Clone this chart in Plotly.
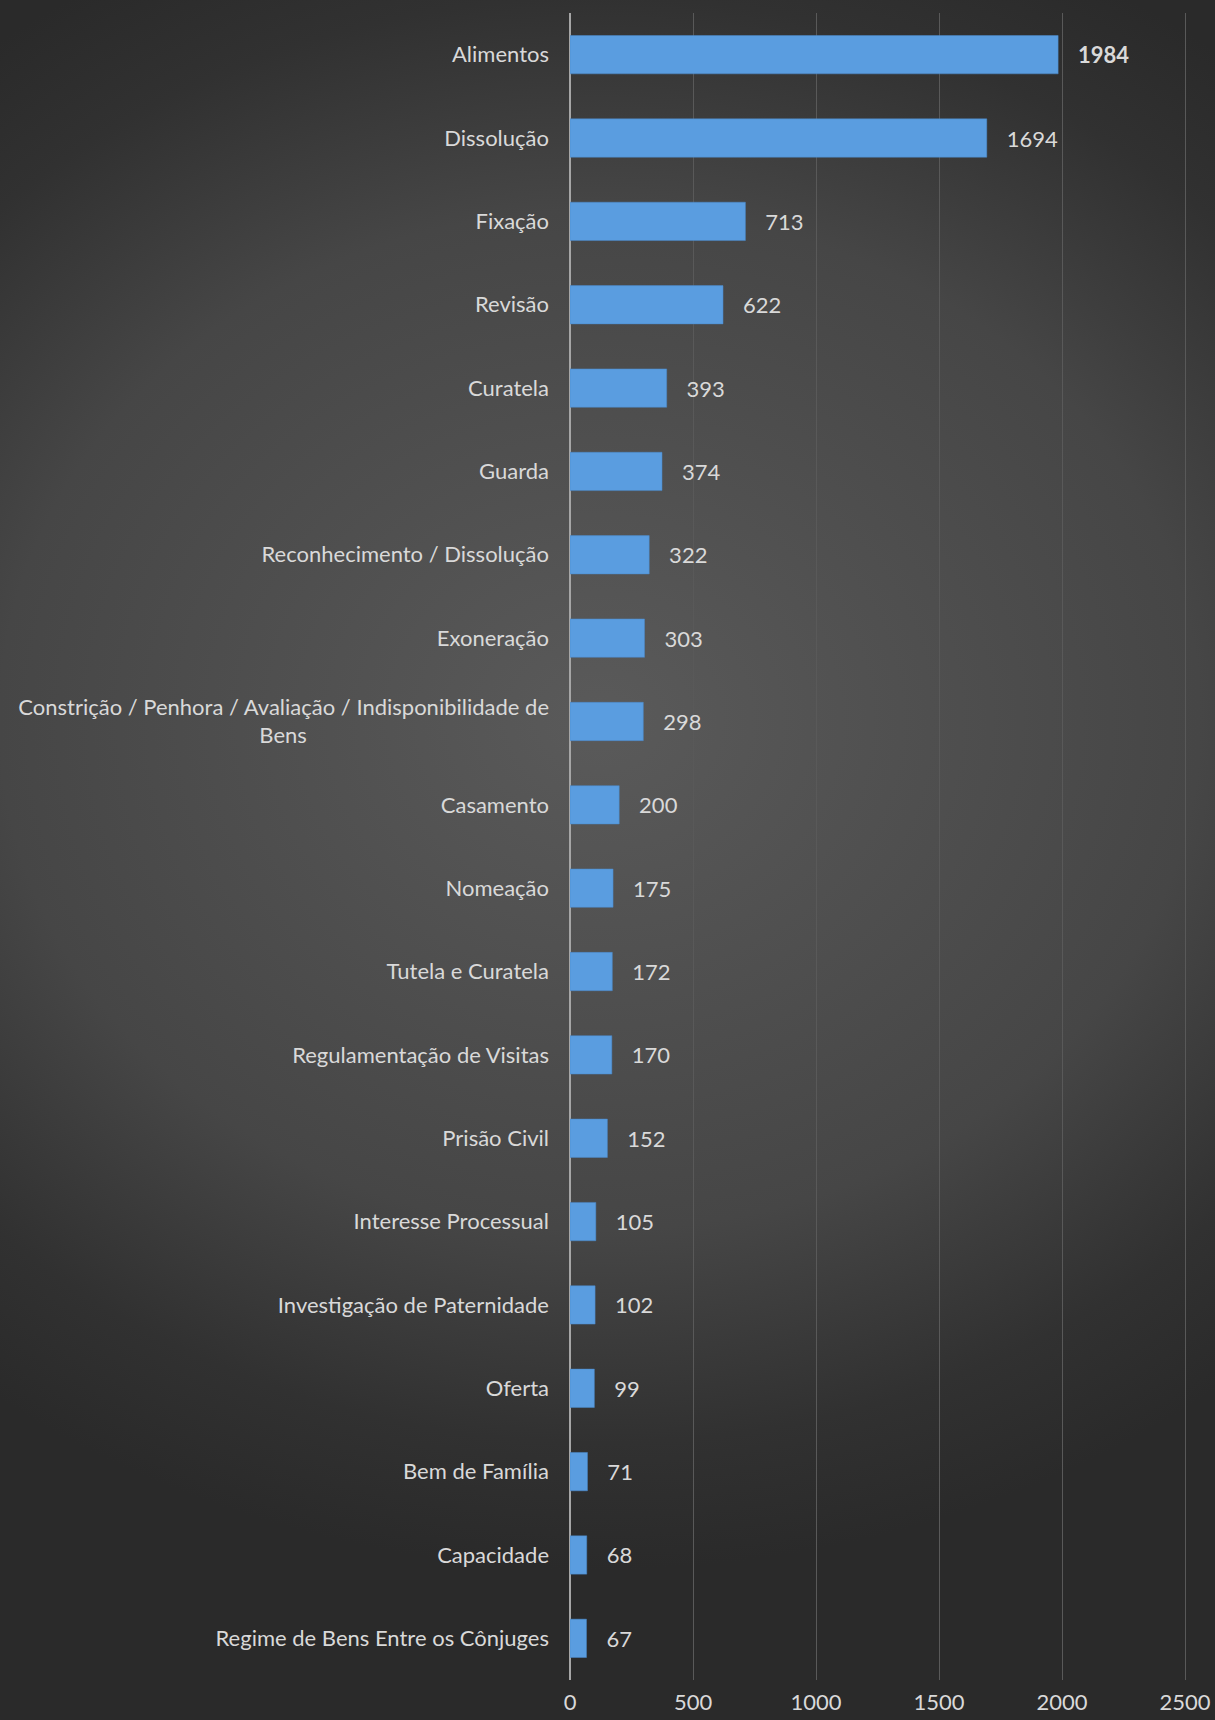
import base64
import plotly.graph_objects as go

categories = [
    "Alimentos", "Dissolução", "Fixação", "Revisão", "Curatela", "Guarda",
    "Reconhecimento / Dissolução", "Exoneração",
    "Constrição / Penhora / Avaliação / Indisponibilidade de<br>Bens",
    "Casamento", "Nomeação", "Tutela e Curatela", "Regulamentação de Visitas",
    "Prisão Civil", "Interesse Processual", "Investigação de Paternidade",
    "Oferta", "Bem de Família", "Capacidade", "Regime de Bens Entre os Cônjuges",
]
values = [1984, 1694, 713, 622, 393, 374, 322, 303, 298, 200, 175, 172, 170,
          152, 105, 102, 99, 71, 68, 67]
x_ticks = [0, 500, 1000, 1500, 2000, 2500]

# centre the wrapped second line under the first line
NB = "\u00a0"
tick_text = []
for c in categories:
    if "<br>" in c:
        a, b = c.split("<br>")
        tick_text.append(a + "<br>" + b + NB * 43)
    else:
        tick_text.append(c)

labels = [("<b>%d</b>" % v) if v == max(values) else str(v) for v in values]
labels = [NB * 3 + s for s in labels]

W, H = 1215, 1720
L, T, B = 570, 13, 40
XMAX = 2520
pw = round(615 * XMAX / 2500)
R = W - L - pw
ph = H - T - B

svg = f'''<svg xmlns="http://www.w3.org/2000/svg" width="{W}" height="{H}">
<defs><radialGradient id="g" gradientUnits="userSpaceOnUse" cx="600" cy="720" r="1000"
gradientTransform="translate(600,720) scale(1,0.85) translate(-600,-720)">
<stop offset="0" stop-color="#5a5a5a"/><stop offset="0.6" stop-color="#464646"/>
<stop offset="0.85" stop-color="#313131"/><stop offset="1" stop-color="#2a2a2a"/>
</radialGradient></defs>
<rect width="{W}" height="{H}" fill="url(#g)"/></svg>'''
src = "data:image/svg+xml;base64," + base64.b64encode(svg.encode()).decode()

fig = go.Figure(go.Bar(
    x=values, y=categories, orientation="h",
    marker=dict(color="#5a9de0", line=dict(color="#4a88c8", width=0.5)),
    width=0.46,
    text=labels, textposition="outside", cliponaxis=False,
    textfont=dict(family="Lato", size=22, color="#d9d9d9"),
))

fig.update_layout(
    width=W, height=H,
    margin=dict(l=L, r=R, t=T, b=B, pad=0, autoexpand=False),
    paper_bgcolor="#2d2d2d", plot_bgcolor="rgba(0,0,0,0)",
    font=dict(family="Lato", size=22, color="#d9d9d9"),
    showlegend=False,
    images=[dict(source=src, xref="paper", yref="paper",
                 x=-L / pw, y=1 + T / ph, sizex=W / pw, sizey=H / ph,
                 xanchor="left", yanchor="top", sizing="stretch",
                 layer="below")],
    xaxis=dict(range=[0, XMAX], tickvals=x_ticks, showgrid=True,
               gridcolor="#595959", gridwidth=1, zeroline=True,
               zerolinecolor="#a6a6a6", zerolinewidth=2, showline=False,
               ticks="", ticklabelstandoff=7, automargin=False,
               tickfont=dict(family="Lato", size=22, color="#d9d9d9")),
    yaxis=dict(categoryorder="array", categoryarray=categories,
               tickvals=categories, ticktext=tick_text,
               autorange="reversed", showgrid=False, showline=False,
               ticks="", ticklabelstandoff=20, automargin=False,
               tickfont=dict(family="Lato", size=22, color="#d9d9d9")),
)

fig.write_html("out.html")
